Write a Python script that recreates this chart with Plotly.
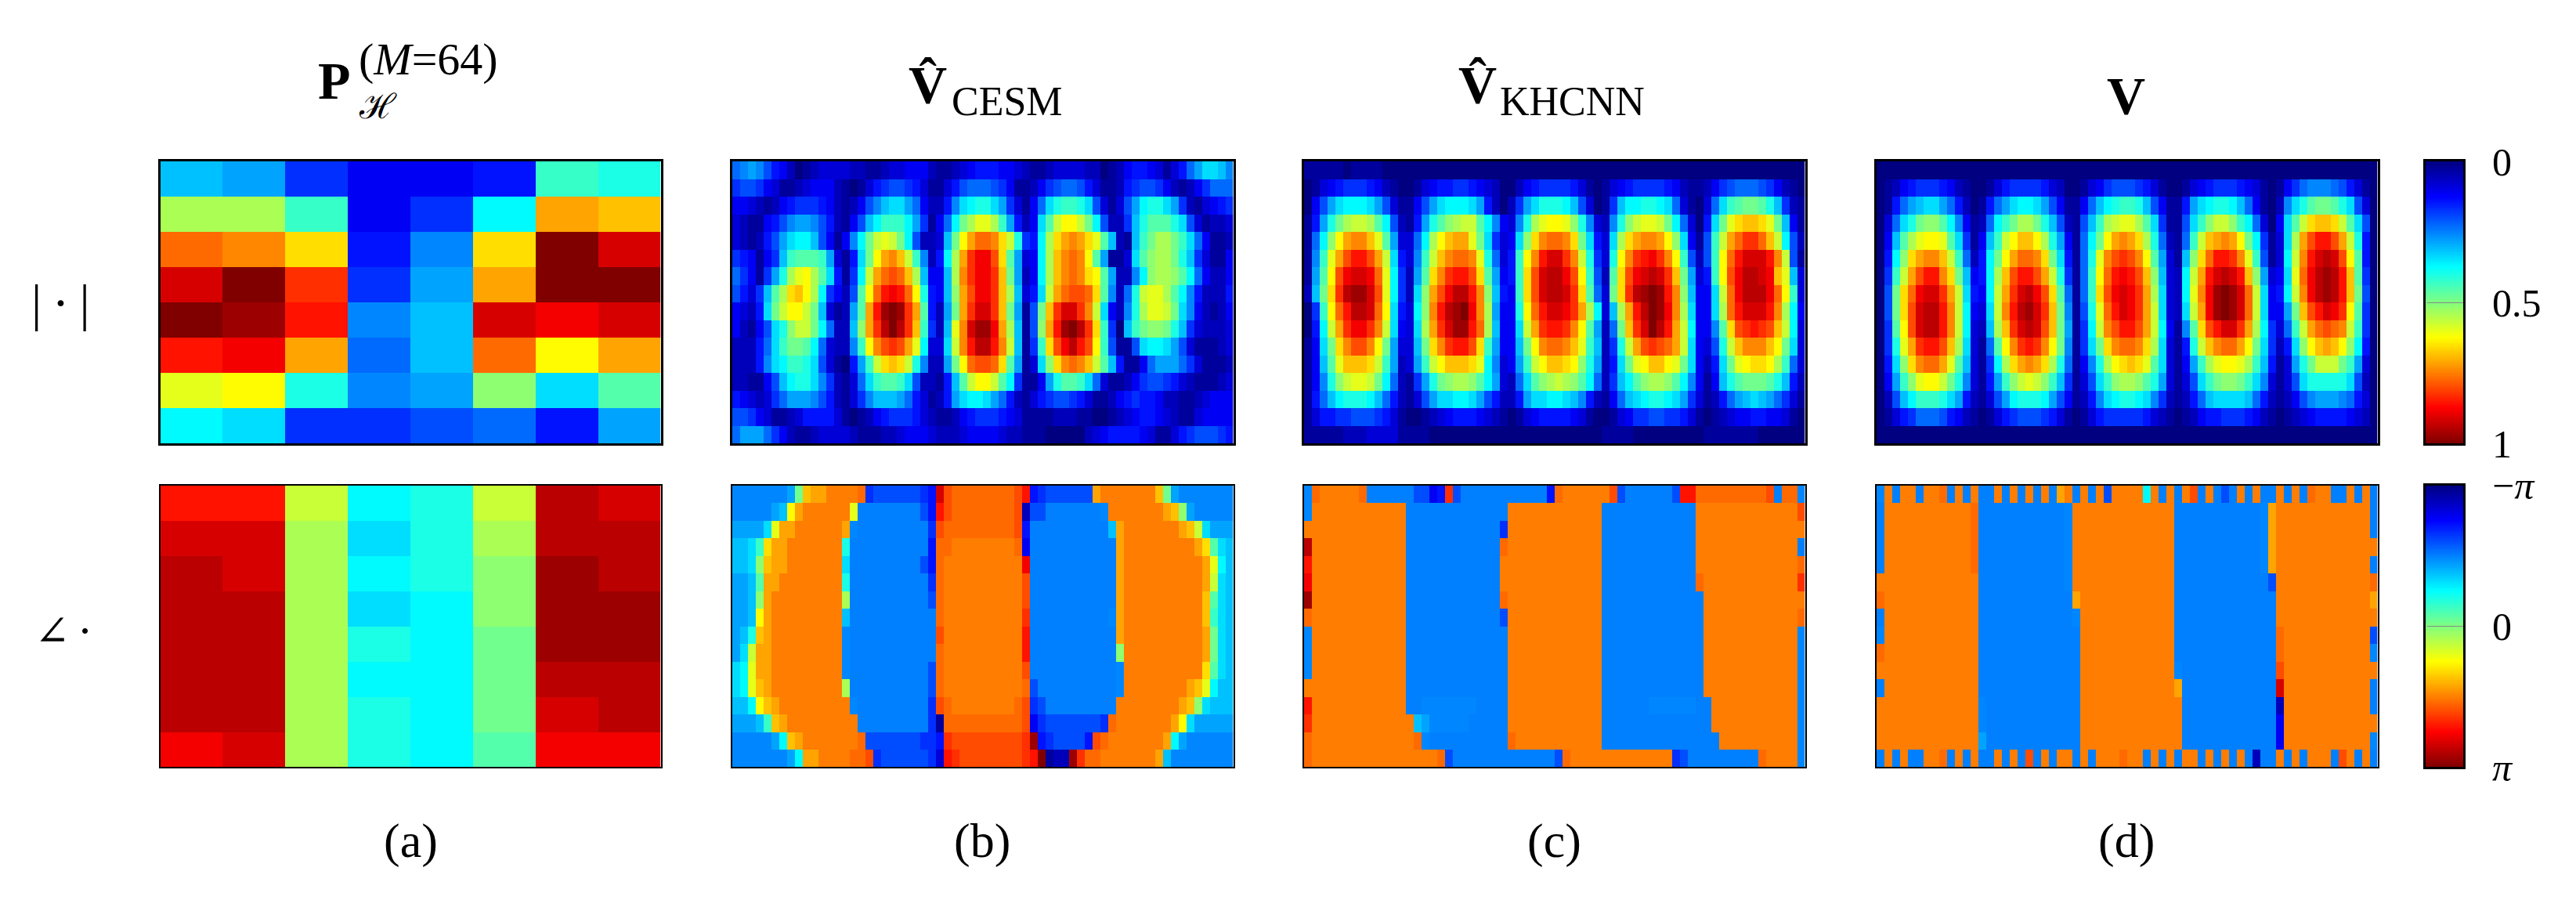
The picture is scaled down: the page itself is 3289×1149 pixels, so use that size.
import numpy as np
import plotly.graph_objects as go

W, H = 3289, 1149

# Each character is one cell: 0-9a-z -> level / 35 of the colour range.
LEVELS = "0123456789abcdefghijklmnopqrstuvwxyz"

mag_a = ["ba6445fe", "jjf46dpo", "rqn59nzw", "wzt6apzz", "zyu9bwvw", "uvp8brmp", "lme9aicg", "dc66785a"]
phase_a = ["uukdekxw", "wwjcejxx", "xwjdeiyx", "xxjcdiyy", "xxjedhyy", "xxjddhxx", "xxjedhwx", "vwjedgvv"]

mag_b = [
    "89a9754201233" "3322112334442" "1123455544321" "1233332201245" "5431358accb9",
    "6776431123444" "2101356776531" "1357888764112" "4678875311256" "776421246888",
    "4432124566654" "212479bcca842" "259cdeeca6314" "8ceffec73137a" "deeca6213456",
    "32114579aa975" "2147bdfffda61" "48dhjlljfa524" "cgkmmkhd7226b" "egggec731223",
    "321257acddb74" "149dhklkhd722" "3bhmprrqnke65" "djnpqpnlgb21b" "fhjjhfc84112",
    "654146bfgggfa" "315chmpqokf92" "5djptvvsnga34" "djoqrqmga113c" "gijjheb63114",
    "86416aejlmjgc" "516dkprsrojb4" "4bjqtvvtoha24" "djoqrqnmga229" "dijjigd84224",
    "7536bgjnomjd6" "427gmruvurme5" "4bipsvvtojb35" "ckprssrng928e" "klljgd952225",
    "4325chkmmkhb3" "12agpuyzytpg5" "2ahptwwtoha17" "hotwwtqkc429e" "jllkhc942124",
    "42147ceikkhd8" "22biptxzxtof6" "2blqwyyvpjb17" "ipuyzxtnf60bf" "hiiheb632223",
    "22258cfhhgd83" "229fmqstspld3" "3ckquxxuqkb16" "fnsvxusmf7117" "cddca7311123",
    "22259cdffec73" "105afknonke92" "2ahmrssrnga13" "cinqrqokgb511" "48aaa8631112",
    "221147bdeec96" "2138cfggfc722" "15bgkmmkgd611" "4aeggfc831124" "677653211123",
    "5432368aaa975" "21369bbba8531" "25acddca85213" "5677653112456" "554221123444",
    "7764311235555" "3101245666532" "1124566654311" "1122211001234" "554321134444",
    "8aaa864211233" "3321112234443" "2223444432211" "1000002345555" "431135677765",
]

mag_c = [
    "1111101111000" + "0" * 51,
    "0134566654210" "0134556654320" "024566665310" "1345666654211" "2467888764210",
    "047acdddca731" "147acdddca520" "26aceeedb730" "16bddeedc8310" "38cfghhgeb621",
    "15aehjkkjgd72" "15aegijkkgd94" "39ejlmmlie93" "29eikllkhd830" "5chlnoonlhb41",
    "18dimpqqolga3" "38djmopplhc63" "4cinqrrqnhc5" "3cjnpqqpmic41" "7fkprttrokd72",
    "19flpsuuspkc5" "39fkoqrrqle83" "5fmquwwtqke6" "3emqtuvtqmf72" "7fmruwwwuqk71",
    "1agmsvwwvrld6" "2agnqtuusnga4" "5fnswxxvsmf7" "2gnsvwxwtoha3" "5fmsvxxwvolb3",
    "2bhntxyywsld6" "2cipsvxxuqib5" "4fnswxxwtng8" "3hntxyzyuqib4" "4ckrvxxxvrmf3",
    "06fmruxxwrmc5" "3diquxyzvqja4" "4emruwwvtpjd" "3bjpuxzyvqjc4" "4cjruwwwuqjd4",
    "05dkptvvtqkc4" "3cjptwyyurjb4" "4ckptuutqmga" "28hotwzxupkd4" "49gnstutsokd3",
    "14chnqssqmha3" "3bhnqtuusnfa4" "4bhmqrrqolfb" "26ekpstsrpkc4" "37ekoqqqomhc3",
    "14bglooonkfa2" "3afkmooonld93" "4afkmoonmiea" "25chlmoomlhc4" "25chlmnnmjf83",
    "149eikllkhd82" "16aehijjigda3" "28cgijkjigd8" "26bdgijjigd94" "14beghhhgeb52",
    "158bdeeedb852" "137accddca752" "25accddcb952" "148bcdeedca63" "1258abcba8631",
    "1355667776531" "0012345554321" "013455554310" "0134667766531" "0123445544310",
    "1111122233331" "1110000000000" "000000000000" "1111000000000" "1111111000000",
]

mag_d = [
    "0" * 64,
    "0124566654210" "013566665320" "0134677765310" "0134566654310" "1468999875310",
    "0158abcca8520" "158acddca741" "148bdeffeb741" "15acdeedb8410" "29ceghhgec730",
    "038cehiigd941" "28dfhjjheb72" "17bfjklljgc61" "17cfikkifd830" "4cgknoonkgc70",
    "04bgjlmmlgc61" "4bfkmoomjea4" "18dhmpqpnje82" "18fkopqpmhd61" "3cjpsuuspke50",
    "05dinpqqokf82" "5dhmprrqnhc5" "18elqstsqmga3" "1binruutqlf71" "3dkquwxwsmg50",
    "06fkpsuuqnhb4" "5djosuuspke6" "18fmruvusoib3" "2dkpuwxwuoia3" "4clrvxyxuog60",
    "07hnrvwwtpkc5" "4dkptwxvsng8" "18fnsvwvtpjc3" "2dlqvyzywrkc4" "5dkqvxyxuoh70",
    "07hnswxxuqkd4" "3ckquxywtoh9" "17elruwvtpkc3" "2ckpvyzywrkc4" "4ahosuwvtmg60",
    "06gmswxxuqkd3" "2bjotwxwsoha" "16dkqsuuspkd4" "19gnsuwwtpjd6" "38fkprsrqkf60",
    "06elptuusojc3" "18gmqtutqmh9" "16chnqrrqnjc3" "15ekoqrrpmhc6" "25cimopomid50",
    "05cinqrrplgb3" "16djnpqpnje8" "149ejmnonlgc3" "14afjlmmljfb5" "13aehkkkhfa30",
    "04afilmmkhe93" "15afiklkifb6" "137cfijjigea3" "137cfhiihfc93" "137ceeeeec720",
    "027bdfffeca52" "137adeeeda74" "1259cdeedc962" "1258bccccb852" "12479aaa98530",
    "0135688875421" "013567776531" "0135666665321" "0124556665421" "0123455554320",
    "0" * 64,
]

phase_b = [
    "9"*7+"aho"+"pp"+"qqqq"+"r"+"6"+"7"*6+"65"+"ws"+"r"*8+"su"+"56"+"7"*6+"p"+"q"*7+"oha"+"9"*7,
    "9"*5+"abmp"+"q"*6+"l"+"8"*8+"75us"+"r"*8+"s2"+"77"+"8"*7+"9"+"q"*7+"poia"+"9"*5,
    "aaaacl"+"pp"+"q"*6+"p9"+"8"*8+"86s"+"r"*9+"s5"+"8"*10+"bp"+"q"*7+"pokc"+"aaa",
    "bbcfn"+"pp"+"q"*7+"e8"+"8"*8+"85rr"+"q"*8+"r4"+"8"*11+"p"+"q"*9+"pngcb",
    "bbcio"+"pp"+"q"*7+"c"+"8"*9+"75r"+"q"*10+"v"+"8"*11+"p"+"q"*10+"pldb",
    "aabg"+"pp"+"q"*8+"e"+"8"*10+"6r"+"q"*10+"s"+"8"*11+"p"+"q"*10+"pkcb",
    "aabip"+"q"*9+"j"+"8"*10+"7r"+"q"*10+"s"+"8"*11+"p"+"q"*10+"ogcb",
    "aabmp"+"q"*9+"b"+"8"*11+"r"+"q"*10+"t"+"8"*10+"9p"+"q"*10+"ofcb",
    "abeop"+"q"*9+"9"+"8"*11+"s"+"q"*10+"u"+"8"*11+"p"+"q"*10+"phcb",
    "ackpp"+"q"*9+"9"+"8"*11+"r"+"q"*10+"u"+"8"*11+"i"+"q"*10+"phcb",
    "cdlpp"+"q"*9+"9"+"8"*10+"7r"+"q"*10+"s"+"8"*11+"9"+"q"*10+"ngcb",
    "cdlop"+"q"*9+"j"+"8"*10+"7r"+"q"*10+"r7"+"8"*10+"9"+"q"*8+"poldbb",
    "bbdmop"+"q"*9+"9"+"8"*9+"6sr"+"q"*8+"rs67"+"8"*9+"q"*8+"poicbbb",
    "aaabfop"+"q"*9+"8"*9+"61r"+"r"*8+"rs46"+"7"*7+"6r"+"q"*7+"pmc"+"a"*5,
    "9"*5+"adop"+"q"*7+"r"+"7"*7+"665t"+"s"*8+"sty56"+"7777"+"5sr"+"q"*7+"pda"+"9"*6,
    "9"*7+"adpp"+"qqqq"+"rrs"+"6"+"7"*6+"63ut"+"s"*8+"tuz1"+"22"+"ytrr"+"q"*7+"pb"+"9"*8,
]

phase_c = [
    "9rqqqqqr"+"8"*6+"77"+"45t7"+"8"*11+"5r"+"q"*5+"qs7"+"8"*6+"7uu"+"r"*9+"s8rr9",
    "9"+"q"*12+"8"*13+"q"*12+"8"*12+"q"*13+"s",
    "q"*13+"8"*12+"6"+"q"*12+"8"*12+"q"*14,
    "x"+"q"*12+"8"*12+"r"+"q"*12+"8"*12+"q"*13+"8",
    "u"+"q"*12+"8"*12+"q"+"q"*12+"8"*12+"q"*13+"r",
    "v"+"q"*12+"8"*12+"q"+"q"*12+"8"*12+"r"+"q"*12+"t",
    "y"+"q"*12+"8"*12+"r"+"q"*12+"8"*13+"q"*12+"q",
    "r"+"q"*12+"8"*12+"7"+"q"*12+"8"*13+"q"*12+"r",
    "9"+"q"*12+"8"*13+"q"*12+"8"*13+"q"*12+"9",
    "9"+"q"*12+"8"*13+"q"*12+"8"*13+"q"*12+"9",
    "9"+"q"*12+"8"*13+"q"*12+"8"*13+"q"*12+"9",
    "q"+"q"*12+"8"*13+"q"*12+"8"*13+"q"*12+"9",
    "u"+"q"*12+"88"+"9"*7+"8"*4+"q"*12+"8"*6+"9"*6+"88"+"q"*11+"9",
    "t"+"q"*13+"ba"+"9"*5+"8"*5+"q"*12+"8"*14+"q"*11+"9",
    "r"+"q"*13+"r9"+"8"*10+"r"+"q"*11+"8"*15+"q"*10+"9",
    "r"+"q"*16+"r7"+"8"*13+"7r"+"q"*13+"67"+"8"*9+"r"+"q"*4+"9",
]

phase_d = [
    "9q8qq8qq" "r" "8q8q" "88" "q8q8q8q8" "pq8" "q8q7" "qqqq" "dq8q" "8qs8" "q878" "q8q" "88" "q8q8" "rqq" "88" "q8q8",
    "8"+"q"*11+"r"+"8"*11+"9"+"q"*13+"8"*11+"9p"+"q"*12+"8",
    "8"+"q"*11+"r"+"8"*11+"9"+"q"*13+"8"*11+"9p"+"q"*12+"8",
    "8"+"q"*11+"r"+"8"*11+"9"+"q"*13+"8"*11+"9p"+"q"*12+"q",
    "8"+"q"*11+"r"+"8"*11+"9"+"q"*13+"8"*11+"9p"+"q"*12+"8",
    "q"*13+"8"*11+"9"+"q"*13+"8"*12+"7"+"q"*12+"r",
    "r"+"q"*12+"8"*12+"p"+"q"*12+"8"*13+"q"*12+"p",
    "8"+"q"*12+"8"*12+"9"+"q"*12+"8"*13+"q"*12+"q",
    "9"+"q"*12+"8"*13+"q"*12+"8"*13+"r"+"q"*11+"7",
    "r"+"q"*12+"8"*13+"q"*12+"8"*13+"r"+"q"*11+"9",
    "q"+"q"*12+"8"*13+"q"*12+"9"+"8"*12+"s"+"q"*11+"q",
    "8"+"q"*12+"8"*13+"q"*12+"p"+"8"*12+"w"+"q"*11+"8",
    "q"+"q"*12+"9"+"8"*12+"q"*12+"q"+"8"*12+"2"+"q"*11+"8",
    "q"+"q"*12+"9"+"8"*12+"q"*12+"q"+"8"*12+"4"+"q"*11+"q",
    "q"+"q"*12+"a"+"8"*12+"q"*12+"q"+"8"*12+"4"+"q"*11+"9",
    "8q8q88qqr" "8q8q" "88" "q8q8" "s" "8q8" "qq" "8q8" "qqqrqq" "8q8q" "8qq8" "q8q8q8" "2" "88" "q8q8" "qqq" "8s" "q8q8",
]

PHASE_EXACT = {"8": 0.25, "q": 0.752}  # the two plateau colours of the phase maps

tick_labels_mag = ["0", "0.5", "1"]
tick_labels_phase = ["\u2212<i>\u03c0</i>", "0", "<i>\u03c0</i>"]
gradient = np.linspace(0, 1, 256)

JET = [[0, "#000080"], [0.125, "#0000ff"], [0.375, "#00ffff"],
       [0.625, "#ffff00"], [0.875, "#ff0000"], [1, "#800000"]]
SERIF = "Liberation Serif"


def decode(rows, ncol, exact=None):
    exact = exact or {}
    out = []
    for row in rows:
        row = row.ljust(ncol, row[-1])[:ncol]
        out.append([exact.get(c, LEVELS.index(c) / 35) for c in row])
    return out


def to_angle(m):
    return ((np.array(m) * 2 - 1) * np.pi).tolist()


# pixel layout ---------------------------------------------------------------
PANEL_X = [(204.5, 843.5), (934.5, 1574.5), (1664.5, 2304.5), (2395.5, 3035.5)]
ROW_Y = [(206, 566), (619.5, 979)]
CBAR_X = (3097, 3145)


def fx(p):
    return p / W


def fy(p):
    return 1 - p / H


fig = go.Figure()
layout = {}
counter = 0


def axes(xpx, ypx, line):
    global counter
    counter += 1
    sfx = "" if counter == 1 else str(counter)
    layout["xaxis" + sfx] = dict(domain=[fx(xpx[0]), fx(xpx[1])], showticklabels=False, ticks="",
                                 showgrid=False, zeroline=False, showline=True, mirror=True,
                                 linecolor="black", linewidth=line, anchor="y" + sfx)
    layout["yaxis" + sfx] = dict(domain=[fy(ypx[1]), fy(ypx[0])], showticklabels=False, ticks="",
                                 showgrid=False, zeroline=False, showline=True, mirror=True,
                                 linecolor="black", linewidth=line, anchor="x" + sfx)
    return "x" + sfx, "y" + sfx, sfx


mag_panels = [decode(mag_a, 8), decode(mag_b, 64), decode(mag_c, 64), decode(mag_d, 64)]
phase_panels = [to_angle(decode(phase_a, 8)), to_angle(decode(phase_b, 64, PHASE_EXACT)),
                to_angle(decode(phase_c, 64, PHASE_EXACT)), to_angle(decode(phase_d, 64, PHASE_EXACT))]

for i, z in enumerate(mag_panels):
    xa, ya, sfx = axes(PANEL_X[i], ROW_Y[0], 2.5)
    layout["yaxis" + sfx]["autorange"] = "reversed"
    fig.add_trace(go.Heatmap(z=z, zmin=0, zmax=1, colorscale=JET, showscale=False, xaxis=xa, yaxis=ya,
                             hoverinfo="skip"))
for i, z in enumerate(phase_panels):
    xa, ya, sfx = axes(PANEL_X[i], ROW_Y[1], 1.5)
    layout["yaxis" + sfx]["autorange"] = "reversed"
    fig.add_trace(go.Heatmap(z=z, zmin=-np.pi, zmax=np.pi, colorscale=JET, showscale=False, xaxis=xa, yaxis=ya,
                             hoverinfo="skip"))

# colour bars (0 / -pi on top)
for r, (lo, hi, labels) in enumerate([(0, 1, tick_labels_mag), (-np.pi, np.pi, tick_labels_phase)]):
    xa, ya, sfx = axes(CBAR_X, ROW_Y[r], 3)
    y = (lo + gradient * (hi - lo)).tolist()
    fig.add_trace(go.Heatmap(z=[[v] for v in y], y=y, x=[0], zmin=lo, zmax=hi, colorscale=JET, showscale=False,
                             xaxis=xa, yaxis=ya, hoverinfo="skip"))
    layout["yaxis" + sfx].update(range=[hi, lo], side="right", showticklabels=True, ticks="inside",
                                 ticklen=46, tickwidth=1, tickcolor="#888888",
                                 tickvals=[lo, (lo + hi) / 2, hi], ticktext=labels,
                                 tickfont=dict(family=SERIF, size=50, color="black"),
                                 ticklabelstandoff=24)


def note(text, x, y, size, xanchor="center", **kw):
    return dict(text=text, x=fx(x), y=fy(y), xref="paper", yref="paper", showarrow=False, xanchor=xanchor,
                yanchor="middle", font=dict(family=kw.pop("family", SERIF), size=size, color="black"), **kw)


annotations = [
    note("<b>P</b>", 404, 103, 68, "left"),
    note("(<i>M</i>=64)", 456, 76, 58, "left"),
    note("\u210b", 482, 137, 44),
    note("<b>V\u0302</b>", 1158, 108, 68, "left"),
    note("CESM", 1213, 129, 52, "left"),
    note("<b>V\u0302</b>", 1860, 108, 68, "left"),
    note("KHCNN", 1913, 129, 52, "left"),
    note("<b>V</b>", 2688, 122, 68, "left"),
    note("|\u2009\u00b7\u2009|", 77, 386, 66),
    note("\u2220\u2009\u00b7", 80, 805, 54, family="DejaVu Serif"),
    note("(a)", 524, 1073, 62),
    note("(b)", 1254, 1073, 62),
    note("(c)", 1984, 1073, 62),
    note("(d)", 2715, 1073, 62),
]

fig.update_layout(width=W, height=H, autosize=False,
                  margin=dict(l=0, r=0, t=0, b=0, autoexpand=False),
                  paper_bgcolor="white", plot_bgcolor="white", annotations=annotations, **layout)
fig.write_html("out.html", config={"displayModeBar": False},
               post_script="document.body.style.margin='0';document.body.style.overflow='hidden';")
